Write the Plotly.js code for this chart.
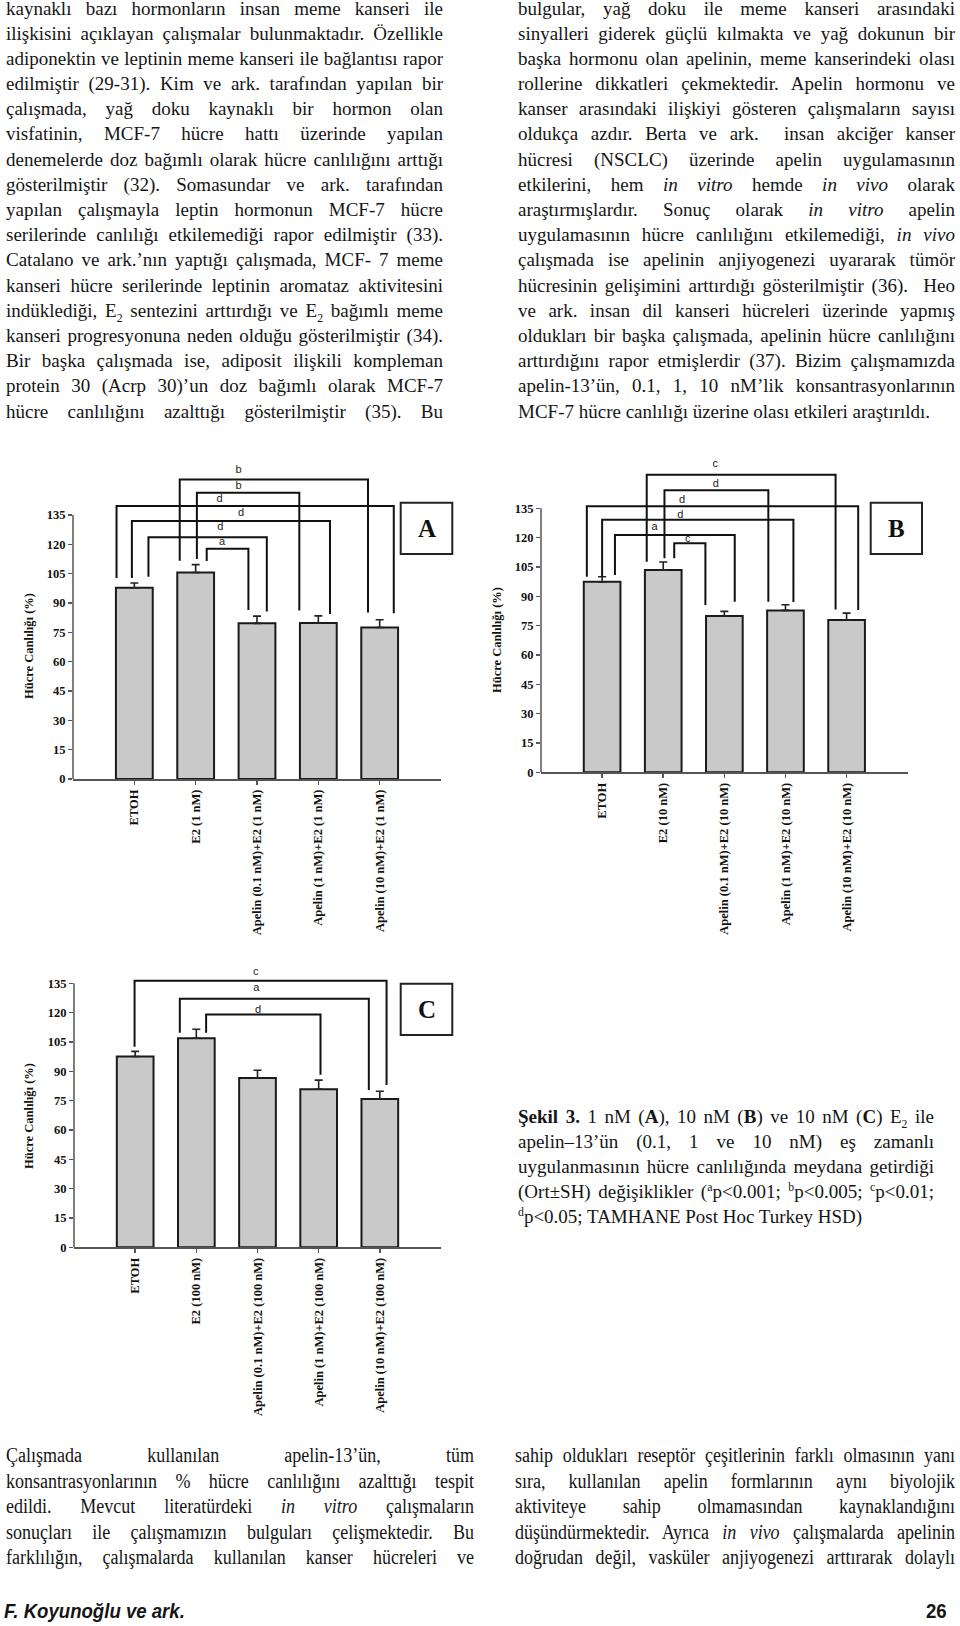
<!DOCTYPE html>
<html><head><meta charset="utf-8">
<script src="https://cdn.plot.ly/plotly-3.0.1.min.js"></script>
<style>
html,body{margin:0;padding:0;background:#fff;}
#page{position:relative;width:960px;height:1626px;overflow:hidden;background:#fff;}
#plot{position:absolute;left:0;top:0;width:960px;height:1626px;z-index:1;}
.blk{position:absolute;font-family:"Liberation Serif","Times New Roman",serif;font-size:19px;color:#151515;z-index:2;}
.blk div{text-align:justify;text-align-last:justify;}
.blk div.last{text-align:left;text-align-last:left;}
.blk sup,.blk sub{font-size:0.62em;line-height:0;}
.foot{position:absolute;font-family:"Liberation Sans Narrow","Liberation Sans",Arial,sans-serif;font-weight:bold;font-style:italic;font-size:20px;color:#151515;z-index:2;transform-origin:left top;}
</style></head>
<body>
<div id="page">
<div id="plot"></div>
<div id="txtL" class="blk" style="left:6px;top:-4.5px;width:437px;line-height:25.2px;"></div>
<div id="txtR" class="blk" style="left:518px;top:-4.5px;width:437px;line-height:25.2px;"></div>
<div id="txtCap" class="blk" style="left:518px;top:1103.75px;width:416px;line-height:25px;"></div>
<div id="txtBL" class="blk" style="left:6px;top:1443px;width:520px;line-height:25.5px;font-size:20px;transform:scaleX(0.9);transform-origin:left top;"></div>
<div id="txtBR" class="blk" style="left:515px;top:1443px;width:489px;line-height:25.5px;font-size:20px;transform:scaleX(0.9);transform-origin:left top;"></div>
<div class="foot" style="left:4px;top:1600px;transform:scaleX(0.93);">F. Koyunoğlu ve ark.</div>
<div class="foot" style="left:926px;top:1600px;font-style:normal;transform:scaleX(0.93);">26</div>
</div>
<script>
// ---------- chart data ----------
const catsA = ['ETOH','E2 (1 nM)','Apelin (0.1 nM)+E2 (1 nM)','Apelin (1 nM)+E2 (1 nM)','Apelin (10 nM)+E2 (1 nM)'];
const catsB = ['ETOH','E2 (10 nM)','Apelin (0.1 nM)+E2 (10 nM)','Apelin (1 nM)+E2 (10 nM)','Apelin (10 nM)+E2 (10 nM)'];
const catsC = ['ETOH','E2 (100 nM)','Apelin (0.1 nM)+E2 (100 nM)','Apelin (1 nM)+E2 (100 nM)','Apelin (10 nM)+E2 (100 nM)'];
const valsA = [97.8, 105.6, 79.6, 79.8, 77.5];
const errA  = [2.4, 4.0, 3.7, 3.6, 3.9];
const valsB = [97.4, 103.4, 79.9, 82.8, 77.9];
const errB  = [2.6, 4.1, 2.4, 2.9, 3.5];
const valsC = [97.6, 106.9, 86.6, 80.8, 75.8];
const errC  = [2.6, 4.6, 3.9, 4.7, 4.0];
const yTickVals = [0, 15, 30, 45, 60, 75, 90, 105, 120, 135];
const yTitle = 'Hücre Canlılığı (%)';
const panelLetters = ['A', 'B', 'C'];
// significance comparisons: [group i, group j, letter]
const sigA = [[1,4,'b'],[1,3,'b'],[0,4,'d'],[0,3,'d'],[0,2,'d'],[1,2,'a']];
const sigB = [[1,4,'c'],[1,3,'d'],[0,4,'d'],[0,3,'d'],[0,2,'a'],[1,2,'c']];
const sigC = [[0,4,'c'],[1,4,'a'],[1,3,'d']];

// ---------- bracket drawing geometry (offsets, heights, label spots) ----------
// [offset at i, offset at j, bracket top, leg end at i, leg end at j, label x, label y]
const geoA = [[-0.26,-0.19,153.2,111.6,85.2,1.70,158.0],[0.02,-0.31,146.4,112.5,86.1,1.70,149.8],
              [-0.29,0.23,139.6,102.8,84.7,1.39,143.1],[-0.04,0.19,131.9,102.8,84.4,1.74,136.1],
              [0.23,0.16,123.6,103.4,85.7,1.40,128.5],[0.18,-0.14,117.8,111.5,86.4,1.43,121.3]];
const geoB = [[-0.27,-0.18,152.1,107.7,83.3,1.85,157.6],[0.02,-0.28,144.2,109.4,87.2,1.86,147.5],
              [-0.25,0.19,136.0,100.0,83.0,1.31,139.1],[0.0,0.13,129.2,100.0,87.1,1.28,131.4],
              [0.21,0.17,121.3,100.9,87.2,0.86,125.1],[0.18,-0.31,117.1,109.4,85.5,1.40,119.1]];
const geoC = [[-0.01,0.11,136.3,102.6,83.0,1.97,140.9],[-0.27,-0.18,127.1,109.7,80.4,1.98,132.7],
              [0.16,0.03,119.1,109.7,88.2,2.01,121.3]];

// ---------- page text ----------
const leftTop = [
'kaynaklı bazı hormonların insan meme kanseri ile',
'ilişkisini açıklayan çalışmalar bulunmaktadır. Özellikle',
'adiponektin ve leptinin meme kanseri ile bağlantısı rapor',
'edilmiştir (29-31). Kim ve ark. tarafından yapılan bir',
'çalışmada, yağ doku kaynaklı bir hormon olan',
'visfatinin, MCF-7 hücre hattı üzerinde yapılan',
'denemelerde doz bağımlı olarak hücre canlılığını arttığı',
'gösterilmiştir (32). Somasundar ve ark. tarafından',
'yapılan çalışmayla leptin hormonun MCF-7 hücre',
'serilerinde canlılığı etkilemediği rapor edilmiştir (33).',
'Catalano ve ark.’nın yaptığı çalışmada, MCF- 7 meme',
'kanseri hücre serilerinde leptinin aromataz aktivitesini',
'indüklediği, E<sub>2</sub> sentezini arttırdığı ve E<sub>2</sub> bağımlı meme',
'kanseri progresyonuna neden olduğu gösterilmiştir (34).',
'Bir başka çalışmada ise, adiposit ilişkili kompleman',
'protein 30 (Acrp 30)’un doz bağımlı olarak MCF-7',
'hücre canlılığını azalttığı gösterilmiştir (35). Bu'];
const rightTop = [
'bulgular, yağ doku ile meme kanseri arasındaki',
'sinyalleri giderek güçlü kılmakta ve yağ dokunun bir',
'başka hormonu olan apelinin, meme kanserindeki olası',
'rollerine dikkatleri çekmektedir. Apelin hormonu ve',
'kanser arasındaki ilişkiyi gösteren çalışmaların sayısı',
'oldukça azdır. Berta ve ark. &nbsp;insan akciğer kanser',
'hücresi (NSCLC) üzerinde apelin uygulamasının',
'etkilerini, hem <i>in vitro</i> hemde <i>in vivo</i> olarak',
'araştırmışlardır. Sonuç olarak <i>in vitro</i> apelin',
'uygulamasının hücre canlılığını etkilemediği, <i>in vivo</i>',
'çalışmada ise apelinin anjiyogenezi uyararak tümör',
'hücresinin gelişimini arttırdığı gösterilmiştir (36). &nbsp;Heo',
've ark. insan dil kanseri hücreleri üzerinde yapmış',
'oldukları bir başka çalışmada, apelinin hücre canlılığını',
'arttırdığını rapor etmişlerdir (37). Bizim çalışmamızda',
'apelin-13’ün, 0.1, 1, 10 nM’lik konsantrasyonlarının',
'MCF-7 hücre canlılığı üzerine olası etkileri araştırıldı.|'];
const caption = [
'<b>Şekil 3.</b> 1 nM (<b>A</b>), 10 nM (<b>B</b>) ve 10 nM (<b>C</b>) E<sub>2</sub> ile',
'apelin–13’ün (0.1, 1 ve 10 nM) eş zamanlı',
'uygulanmasının hücre canlılığında meydana getirdiği',
'(Ort±SH) değişiklikler (<sup>a</sup>p&lt;0.001; <sup>b</sup>p&lt;0.005; <sup>c</sup>p&lt;0.01;',
'<sup>d</sup>p&lt;0.05; TAMHANE Post Hoc Turkey HSD)|'];
const bottomLeft = [
'Çalışmada kullanılan apelin-13’ün, tüm',
'konsantrasyonlarının % hücre canlılığını azalttığı tespit',
'edildi. Mevcut literatürdeki <i>in vitro</i> çalışmaların',
'sonuçları ile çalışmamızın bulguları çelişmektedir. Bu',
'farklılığın, çalışmalarda kullanılan kanser hücreleri ve'];
const bottomRight = [
'sahip oldukları reseptör çeşitlerinin farklı olmasının yanı',
'sıra, kullanılan apelin formlarının aynı biyolojik',
'aktiviteye sahip olmamasından kaynaklandığını',
'düşündürmektedir. Ayrıca <i>in vivo</i> çalışmalarda apelinin',
'doğrudan değil, vasküler anjiyogenezi arttırarak dolaylı'];

function fill(id, lines, lh){
  const el = document.getElementById(id);
  el.innerHTML = lines.map(s => {
    const last = s.endsWith('|');
    const t = last ? s.slice(0,-1) : s;
    return '<div class="' + (last ? 'last' : '') + '" style="height:' + lh + 'px">' + t + '</div>';
  }).join('');
}
fill('txtL', leftTop, 25.2);
fill('txtR', rightTop, 25.2);
fill('txtCap', caption, 25);
fill('txtBL', bottomLeft, 25.5);
fill('txtBR', bottomRight, 25.5);

// ---------- figure geometry (pixels on the page) ----------
const W = 960, H = 1626;
const yAxisTop = 135;   // value where the drawn y axis line stops
const yRangeTop = 165;  // extra room above the axis for the comparison brackets
const panels = [
  {cats:catsA, vals:valsA, err:errA, sig:sigA, geo:geoA, px:[73,441], py:[515,779], box:[400.7,452.3,502.7,554], ytx:29, yty:646},
  {cats:catsB, vals:valsB, err:errB, sig:sigB, geo:geoB, px:[541,907.7], py:[508.3,772.3], box:[870.7,922,502.7,554], ytx:497, yty:640},
  {cats:catsC, vals:valsC, err:errC, sig:sigC, geo:geoC, px:[74,441], py:[983.3,1247.3], box:[400.7,452.3,983.7,1035], ytx:29, yty:1116}
];

const data = [];
const layout = {
  width: W, height: H, margin:{l:0,r:0,t:0,b:0}, autosize:false,
  paper_bgcolor:'rgba(0,0,0,0)', plot_bgcolor:'rgba(0,0,0,0)',
  showlegend:false, shapes:[], annotations:[], bargap:0.4
};
const serif = 'Liberation Serif, Times New Roman, serif';
const axColor = '#555';

panels.forEach((p, k) => {
  const n = k === 0 ? '' : String(k+1);
  const xa = 'x' + n, ya = 'y' + n;
  const idx = p.cats.map((_, i) => i);
  const pxPerUnit = (p.py[1] - p.py[0]) / yAxisTop;
  const topPx = p.py[1] - yRangeTop * pxPerUnit;
  layout['xaxis' + n] = {
    domain:[p.px[0]/W, p.px[1]/W], anchor:ya, range:[-1, 5],
    tickmode:'array', tickvals:idx, ticktext:p.cats, tickangle:-90,
    ticks:'outside', ticklen:4, tickwidth:1.5, tickcolor:axColor,
    showline:true, linecolor:axColor, linewidth:1.5, showgrid:false, zeroline:false,
    tickfont:{family:serif, size:12.5, color:'#111', weight:'bold'}, fixedrange:true
  };
  layout['yaxis' + n] = {
    domain:[1 - p.py[1]/H, 1 - topPx/H], anchor:xa, range:[0, yRangeTop],
    tickmode:'array', tickvals:yTickVals,
    ticks:'outside', ticklen:4, tickwidth:1.5, tickcolor:axColor,
    showline:false, showgrid:false, zeroline:false,
    tickfont:{family:serif, size:12.5, color:'#111', weight:'bold'}, fixedrange:true
  };
  // y axis line, only up to the last tick
  layout.shapes.push({type:'line', xref:'paper', yref:ya, x0:p.px[0]/W, x1:p.px[0]/W, y0:0, y1:yAxisTop,
    line:{color:axColor, width:1.5}});
  data.push({
    type:'bar', x:idx, y:p.vals, xaxis:xa, yaxis:ya, width:0.6,
    marker:{color:'#c9c9c9', line:{color:'#1a1a1a', width:2}},
    error_y:{type:'data', symmetric:false, array:p.err, color:'#222', thickness:1.6, width:4},
    hoverinfo:'skip'
  });
  p.sig.forEach((s, m) => {
    const g = p.geo[m];
    const x1 = s[0] + g[0], x2 = s[1] + g[1];
    data.push({
      type:'scatter', mode:'lines', xaxis:xa, yaxis:ya,
      x:[x1, x1, x2, x2], y:[g[3], g[2], g[2], g[4]],
      line:{color:'#111', width:2}, hoverinfo:'skip'
    });
  });
  data.push({
    type:'scatter', mode:'text', xaxis:xa, yaxis:ya, cliponaxis:false,
    x:p.geo.map(g => g[5]), y:p.geo.map(g => g[6]), text:p.sig.map(s => s[2]),
    textposition:'middle center',
    textfont:{family:'Liberation Sans, Arial, sans-serif', size:11, color:'#222'}, hoverinfo:'skip'
  });
  layout.shapes.push({type:'rect', xref:'paper', yref:'paper',
    x0:p.box[0]/W, x1:p.box[1]/W, y0:1 - p.box[3]/H, y1:1 - p.box[2]/H,
    line:{color:'#222', width:2}, fillcolor:'rgba(0,0,0,0)'});
  layout.annotations.push({xref:'paper', yref:'paper', showarrow:false,
    x:(p.box[0]+p.box[1])/2/W, y:1 - (p.box[2]+p.box[3])/2/H, xanchor:'center', yanchor:'middle',
    text:panelLetters[k], font:{family:serif, size:25, color:'#111', weight:'bold'}});
  layout.annotations.push({xref:'paper', yref:'paper', showarrow:false,
    x:p.ytx/W, y:1 - p.yty/H, xanchor:'center', yanchor:'middle', textangle:-90,
    text:yTitle, font:{family:serif, size:12.5, color:'#111', weight:'bold'}});
});

Plotly.newPlot('plot', data, layout, {staticPlot:true, displayModeBar:false});
</script>
</body></html>
